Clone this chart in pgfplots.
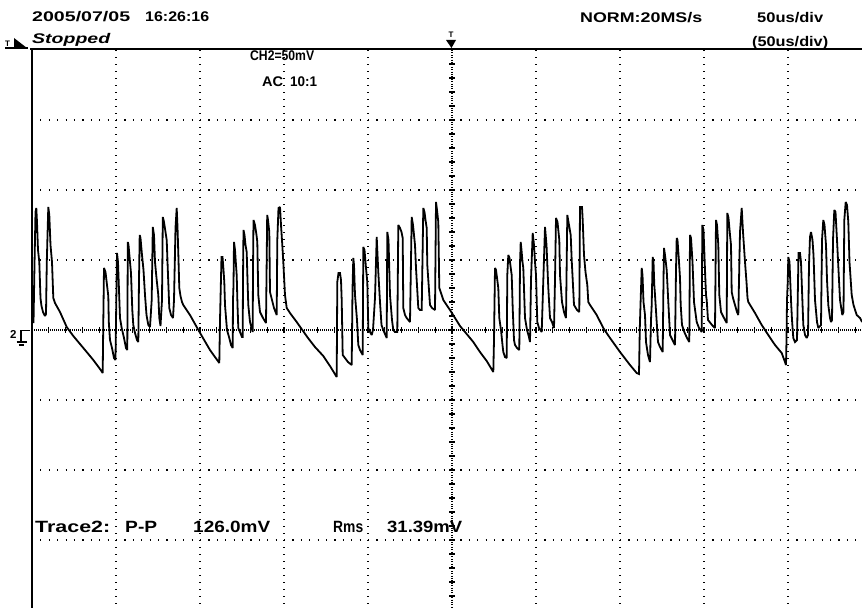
\documentclass[border=0pt]{standalone}
\usepackage{pgfplots}
\pgfplotsset{compat=1.18}
\usepackage{fontspec}
\setmainfont{Liberation Sans}
\usepackage{graphicx}
\newcommand\fitw[2]{\resizebox{#1}{\height}{#2}}
\begin{document}
\begin{tikzpicture}
\useasboundingbox (0,0) rectangle (862pt,608pt);
\begin{axis}[
 at={(32pt,0pt)}, anchor=south west,
 width=830pt, height=558pt, scale only axis,
 xmin=32, xmax=862, ymin=50, ymax=608, y dir=reverse,
 axis line style={draw=none},
 xtick={116,200,284,368,536,620,704,788},
 ytick={120,190,260,400,470,540},
 xticklabels={}, yticklabels={},
 major tick length=0pt,
 xmajorgrids, ymajorgrids,
 major x grid style={black, line width=1.1pt, dash pattern=on 1.1pt off 5.9pt},
 major y grid style={black, line width=1.1pt, dash pattern=on 1.1pt off 7.3pt},
 clip=false,
]
\addplot[black, line width=1.8pt, line join=miter, miter limit=2, mark=none] coordinates {
(32.5,320) (33.5,323) (34.5,265) (35.5,212) (36.3,208) (37,222) (38,250) (39.3,262) (40.5,298) (41.5,306) (43,312) (45,316) (46,314) (46.8,262) (47.6,232) (48.3,207) (49.3,215) (50.5,245) (52,262) (53.3,298) (55,303) (60,312) (66.7,327) (73.3,336) (80,344) (86.7,352) (93.3,360) (100,369) (102.7,373)
(103.3,322) (104,268) (105.5,272) (107,285) (108.3,296) (108.8,322) (110,340) (112,348) (114,358) (115.5,360) (116.3,300) (117,253) (118,262) (119,290) (120,318) (121.7,328) (124,338) (126,348) (127.3,350) (127.8,242) (128.5,245) (130,262) (131,273) (132.3,310) (133.3,325) (135,333) (137,340) (138.3,342) (139,280) (139.7,235) (140.5,238) (142,255) (143.5,270) (145,295) (146.5,315) (148.3,325) (150,327) (151.7,300) (152.8,227) (154,235) (155,262) (156.5,278) (158.3,295) (159.3,318) (160.5,326) (162,300) (162.8,217) (164,222) (165.5,232) (166.7,240) (168,275) (169.3,308) (171,315) (173,318) (174,300) (175.5,228) (176.7,208) (177.5,227) (178.5,260) (179.3,288) (180.5,296) (182,302) (183.3,305) (190,315) (196.7,327) (203,338) (210,350) (215,357) (219.3,363)
(220,320) (221.5,257) (222.5,257) (223.5,270) (224.3,282) (225,305) (227,330) (229.3,338) (231,345) (232.7,348) (233,300) (233.5,285) (234,242) (235,250) (236,265) (236.7,275) (237.5,305) (238.3,328) (240,332) (242,337) (242.7,337) (243,280) (243.5,230) (244.5,235) (245.5,245) (246.7,252) (247.5,280) (248.3,305) (250,322) (252.7,332) (253,270) (253.5,220) (255,225) (256.5,235) (257.3,242) (258.3,295) (260,312) (263,318) (266,323) (266.7,260) (267.2,215) (268,220) (269.3,232) (270,292) (271.5,298) (274,308) (276.7,315) (277.3,240) (278.5,208) (280,207) (281,225) (282.3,245) (283.3,262) (285,295) (286.7,308) (290,313) (296.7,322) (308,338) (315,347) (323.3,356) (330,366) (336.7,377)
(337.3,282) (338.5,273) (340,273) (341,280) (341.7,300) (342.7,355) (345,358) (348,362) (351.7,365) (352.5,290) (353.3,258) (354,265) (355,295) (357,320) (358.3,345) (360,350) (362.7,355) (363.3,247) (364.5,250) (366,268) (367.3,282) (368.3,328) (370,332) (371.7,335) (373,330) (375,298) (376.7,237) (378.3,272) (380,302) (381.5,325) (383.3,330) (386.7,338) (387.3,232) (388.5,240) (390,295) (392,320) (393.3,330) (395,332) (397.3,332) (398.3,225) (400,228) (401.5,232) (402.7,238) (403.3,308) (405,315) (406.7,318) (410,322) (411.7,217) (413,225) (414,235) (415,245) (416,268) (418.3,308) (420,310) (421.7,310) (423.3,208) (424.5,212) (425.5,220) (426.7,228) (427.3,265) (430,305) (432,308) (435,310) (436,202) (437,210) (438.3,222) (439.3,288) (441.7,295) (443.3,300) (450,310) (455,318) (460,326) (466.7,334) (473.3,342) (480,352) (486.7,361) (493.3,372)
(494,340) (495,268) (496,270) (497.3,280) (498.3,288) (499.3,318) (501,330) (502.5,345) (503.3,352) (505,357) (506.7,358) (507.3,275) (508.3,255) (509.5,258) (511,270) (511.7,275) (512.7,308) (514,340) (515,345) (517,348) (519.3,350) (520,265) (520.7,242) (521.5,250) (522.5,262) (523.3,268) (525,318) (527,330) (528.7,336) (530,342) (531,280) (532.7,233) (534,245) (535,262) (536,275) (537.3,322) (539,328) (541.7,332) (543,290) (545,227) (546.5,245) (548.3,288) (550,318) (552,322) (554,328) (555,280) (556,218) (557.5,222) (559.3,240) (560,275) (562,302) (564,312) (566,318) (567.3,215) (569,225) (570.7,235) (571.7,260) (574,305) (577,310) (579.3,312) (580,207) (582,207) (582.7,220) (584,255) (585.5,272) (587.3,285) (588.3,302) (590,305) (596.7,315) (603.3,328) (610,338) (620,352) (630,365) (636.7,373) (639,374)
(639.8,328) (640.5,305) (641.7,268) (642.5,275) (643.5,302) (645,315) (646,342) (648,355) (650,362) (651,320) (651.7,305) (652.7,257) (653.5,262) (654.3,285) (655,295) (656.7,322) (658,342) (660,347) (662.7,352) (663.5,280) (664,248) (665,255) (666.7,270) (668.3,302) (670,335) (672.5,340) (675,345) (676,270) (676.7,238) (677.5,240) (679,262) (680,278) (680.7,305) (682,325) (684.3,332) (687,338) (689.3,342) (690,235) (691,238) (692.5,262) (694,302) (696.7,322) (699,328) (701.7,332) (702.3,225) (703.5,230) (705,270) (706,295) (706.7,300) (708,320) (712,325) (715,328) (716,220) (717,225) (718.3,245) (719.3,295) (721,312) (724,318) (726.7,323) (727.3,213) (728.5,218) (730,235) (731,245) (731.7,292) (733,298) (735,305) (737,312) (738.3,315) (740,232) (741.7,208) (743,232) (745,262) (746.5,282) (747.5,298) (748.3,302) (755,313) (761.7,325) (768.3,335) (775,345) (781.7,353) (785,362) (786,365)
(786.5,340) (787,300) (787.7,283) (788.3,257) (789.5,262) (791,300) (792,320) (793.3,338) (795,342) (797,340) (797.7,300) (798.5,253) (800,253) (801,262) (802,290) (803.3,325) (805,335) (806.7,338) (808,335) (809,265) (810,237) (811,232) (812.5,240) (813.5,255) (815,300) (817,322) (818.3,328) (821,325) (822,240) (823.3,220) (824.5,225) (826,245) (827,280) (828.3,305) (830,318) (831,322) (832,320) (833,240) (834.3,210) (835.5,212) (837,240) (838.5,270) (840,300) (842.3,315) (843.5,312) (844.3,220) (845.7,202) (847,205) (848.3,222) (849.5,262) (851.7,295) (853.5,305) (856.7,315) (860,318) (862,322)
};
\end{axis}
\begin{scope}[x=1pt,y=-1pt,yshift=608pt]
 \draw[line width=1.8pt] (30,49) -- (862,49);
 \draw[line width=1.8pt] (32,49) -- (32,608);
 \draw[line width=1.1pt, dash pattern=on 1.1pt off 0.9pt] (32,330) -- (862,330);
 \draw[line width=1.1pt, dash pattern=on 1.1pt off 1.3pt] (452,50) -- (452,608);
 \foreach \k in {1,...,49} \draw[line width=1.1pt] ({32+16.8*\k},327) -- ++(0,6);
 \foreach \k in {1,...,39} \draw[line width=1.1pt] (449,{50+14*\k}) -- ++(6,0);
 \node[anchor=base west, inner sep=0pt, font=\bfseries\fontsize{11.5}{12}\selectfont] at (10,338.5) {2};
 \draw[line width=1.2pt] (29.5,330.5) -- (21,330.5) -- (21,342);
 \draw[line width=1.2pt] (16.5,342) -- (26.5,342);
 \draw[line width=1.2pt] (18.5,345) -- (24,345);
 \node[anchor=base west, inner sep=0pt, font=\bfseries\fontsize{8}{9}\selectfont] at (5,46.5) {T};
 \draw[line width=1.2pt] (5,48) -- (28,48);
 \fill (14,38) -- (14,48) -- (27,48) -- cycle;
 \node[anchor=base, inner sep=0pt, font=\bfseries\fontsize{8}{9}\selectfont] at (451,38) {T};
 \fill (446,40) -- (456,40) -- (451.5,48) -- cycle;
 \begin{scope}[every node/.style={anchor=base west, inner sep=0pt, font=\bfseries\fontsize{14}{16}\selectfont}]
 \node at (32,21.7) {\fitw{98pt}{2005/07/05}};
 \node at (145,21.7) {\fitw{64pt}{16:26:16}};
 \node at (32,43.3) {\itshape\fitw{78pt}{Stopped}};
 \node at (580,22.7) {\fitw{122pt}{NORM:20MS/s}};
 \node at (757,22.7) {\fitw{66pt}{50us/div}};
 \node at (752,46.5) {\fitw{76pt}{(50us/div)}};
 \node at (250,61) {\scalebox{0.87}[1]{CH2=50mV}};
 \node at (262,87) {\fitw{21pt}{AC}};
 \node at (290,87) {\fitw{27pt}{10:1}};
 \end{scope}
 \begin{scope}[every node/.style={anchor=base west, inner sep=0pt, font=\bfseries\fontsize{16.3}{18}\selectfont}]
 \node at (35,532) {\fitw{75pt}{Trace2:}};
 \node at (125,532) {\fitw{32pt}{P-P}};
 \node at (193,532) {\fitw{77pt}{126.0mV}};
 \node at (333,532) {\fitw{30pt}{Rms}};
 \node at (387,532) {\fitw{75pt}{31.39mV}};
 \end{scope}
\end{scope}
\end{tikzpicture}
\end{document}
